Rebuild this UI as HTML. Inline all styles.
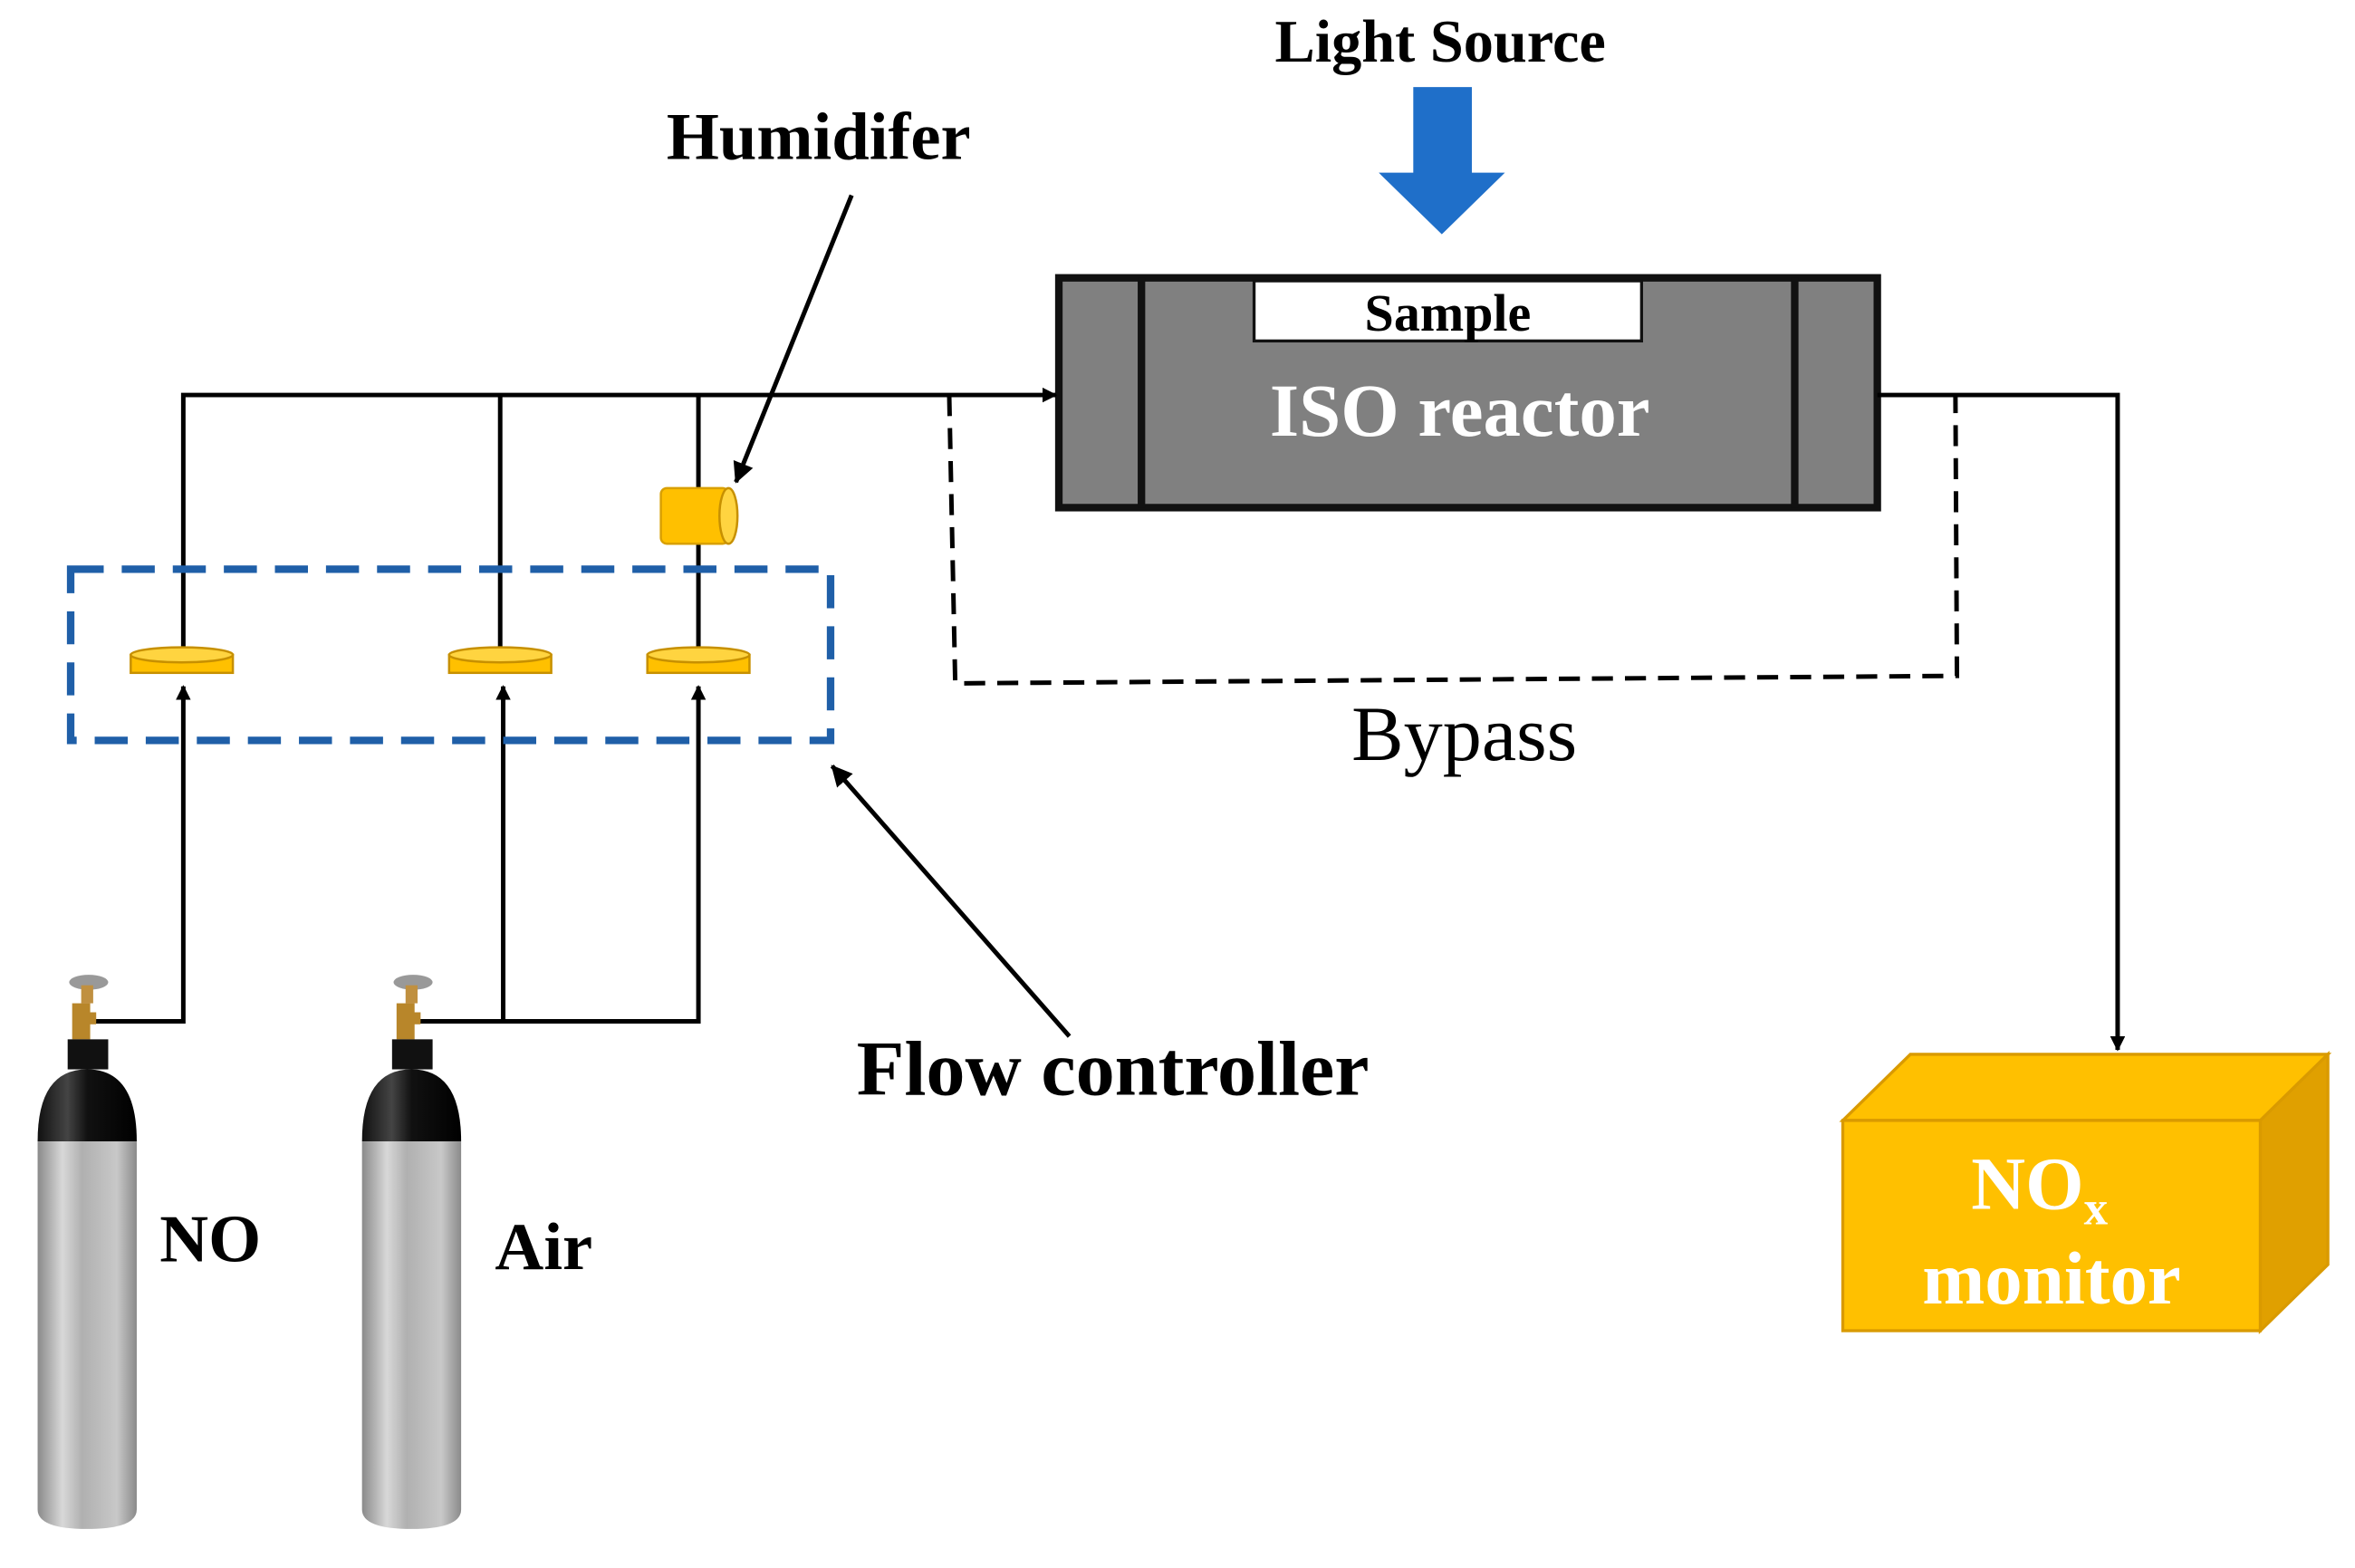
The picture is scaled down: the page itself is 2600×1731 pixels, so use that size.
<!DOCTYPE html>
<html><head><style>html,body{margin:0;padding:0;background:#fff}svg{display:block}</style></head>
<body>
<svg width="2600" height="1731" viewBox="0 0 1568 1044" xmlns="http://www.w3.org/2000/svg" font-family="'Liberation Serif', serif">
<defs>
<marker id="ah" markerWidth="10" markerHeight="10" refX="9" refY="5" orient="auto" markerUnits="userSpaceOnUse" viewBox="0 0 10 10"><path d="M0,0 L10,5 L0,10 z" fill="#000"/></marker>
<marker id="ah2" markerWidth="14" markerHeight="14" refX="13" refY="7" orient="auto" markerUnits="userSpaceOnUse" viewBox="0 0 14 14"><path d="M0,0 L14,7 L0,14 z" fill="#000"/></marker>
<linearGradient id="metal" x1="0" x2="1" y1="0" y2="0">
<stop offset="0" stop-color="#8a8a8a"/><stop offset="0.25" stop-color="#d8d8d8"/><stop offset="0.45" stop-color="#b0b0b0"/><stop offset="0.8" stop-color="#c8c8c8"/><stop offset="1" stop-color="#8a8a8a"/></linearGradient>
<linearGradient id="blk" x1="0" x2="1"><stop offset="0" stop-color="#111"/><stop offset="0.3" stop-color="#444"/><stop offset="0.5" stop-color="#111"/><stop offset="1" stop-color="#000"/></linearGradient>
</defs>

<text x="959" y="41" font-size="40" font-weight="bold" text-anchor="middle">Light Source</text>
<path d="M941,58 H980 V115 H1002 L960,156 L918,115 H941 Z" fill="#1f6fc9"/>

<text x="545" y="106" font-size="45" font-weight="bold" text-anchor="middle">Humidifer</text>
<line x1="567" y1="130" x2="490" y2="321" stroke="#000" stroke-width="3" marker-end="url(#ah2)"/>

<rect x="705" y="185" width="545" height="153" fill="#808080" stroke="#111" stroke-width="5"/>
<line x1="760" y1="185" x2="760" y2="338" stroke="#111" stroke-width="5"/>
<line x1="1195" y1="185" x2="1195" y2="338" stroke="#111" stroke-width="5"/>
<rect x="835" y="187" width="258" height="40" fill="#fff" stroke="#111" stroke-width="2"/>
<text x="964" y="220" font-size="35" font-weight="bold" text-anchor="middle">Sample</text>
<text x="972" y="290" font-size="50" font-weight="bold" fill="#fff" text-anchor="middle">ISO reactor</text>

<g stroke="#000" stroke-width="3" fill="none">
<polyline points="122,440 122,263 703,263" marker-end="url(#ah)"/>
<line x1="333" y1="263" x2="333" y2="440"/>
<line x1="465" y1="263" x2="465" y2="440"/>
<polyline points="1250,263 1410,263 1410,699" marker-end="url(#ah)"/>
<polyline points="62,680 122,680 122,457" marker-end="url(#ah)"/>
<polyline points="275,680 465,680 465,457" marker-end="url(#ah)"/>
<line x1="335" y1="680" x2="335" y2="457" marker-end="url(#ah)"/>
<polyline points="632,263 636,455 1303,450 1302,263" stroke-dasharray="14 8"/>
</g>
<text x="975" y="506" font-size="52" text-anchor="middle">Bypass</text>

<rect x="440" y="325" width="45" height="37" fill="#ffc000" stroke="#d9a000" stroke-width="1.5" rx="4"/>
<ellipse cx="485" cy="343.5" rx="6" ry="18.5" fill="#ffd440" stroke="#c79000" stroke-width="1.5"/>

<rect x="47" y="379" width="506" height="114" fill="none" stroke="#1f5fa8" stroke-width="5" stroke-dasharray="22 12"/>
<g fill="#ffc000" stroke="#c79000" stroke-width="1.5">
<rect x="87" y="436" width="68" height="12"/><ellipse cx="121" cy="436" rx="34" ry="5" fill="#ffd440"/>
<rect x="299" y="436" width="68" height="12"/><ellipse cx="333" cy="436" rx="34" ry="5" fill="#ffd440"/>
<rect x="431" y="436" width="68" height="12"/><ellipse cx="465" cy="436" rx="34" ry="5" fill="#ffd440"/>
</g>

<line x1="712" y1="690" x2="554" y2="510" stroke="#000" stroke-width="3" marker-end="url(#ah2)"/>
<text x="741" y="729" font-size="52" font-weight="bold" text-anchor="middle">Flow controller</text>

<g>
<rect x="48" y="668" width="12" height="24" fill="#b8862a"/>
<rect x="58" y="674" width="6" height="8" fill="#b8862a"/>
<ellipse cx="59" cy="654" rx="13" ry="5" fill="#999"/>
<rect x="54" y="656" width="8" height="12" fill="#c09040"/>
<rect x="45" y="692" width="27" height="20" fill="#111"/>
<path d="M25,760 Q25,712 58,712 Q91,712 91,760 Z" fill="url(#blk)"/>
<path d="M25,760 H91 V1005 Q91,1018 58,1018 Q25,1018 25,1005 Z" fill="url(#metal)"/>

<rect x="264" y="668" width="12" height="24" fill="#b8862a"/>
<rect x="274" y="674" width="6" height="8" fill="#b8862a"/>
<ellipse cx="275" cy="654" rx="13" ry="5" fill="#999"/>
<rect x="270" y="656" width="8" height="12" fill="#c09040"/>
<rect x="261" y="692" width="27" height="20" fill="#111"/>
<path d="M241,760 Q241,712 274,712 Q307,712 307,760 Z" fill="url(#blk)"/>
<path d="M241,760 H307 V1005 Q307,1018 274,1018 Q241,1018 241,1005 Z" fill="url(#metal)"/>
</g>
<text x="140" y="840" font-size="45" font-weight="bold" text-anchor="middle">NO</text>
<text x="362" y="845" font-size="45" font-weight="bold" text-anchor="middle">Air</text>

<polygon points="1227,746 1272,702 1550,702 1505,746" fill="#ffc000" stroke="#d99a00" stroke-width="2"/>
<polygon points="1505,746 1550,702 1550,842 1505,886" fill="#e0a000" stroke="#d99a00" stroke-width="2"/>
<rect x="1227" y="746" width="278" height="140" fill="#ffc000" stroke="#d99a00" stroke-width="2"/>
<text x="1358" y="805" font-size="50" font-weight="bold" fill="#fff" text-anchor="middle">NO<tspan font-size="32" dy="10">x</tspan></text>
<text x="1366" y="868" font-size="50" font-weight="bold" fill="#fff" text-anchor="middle">monitor</text>
</svg>
</body></html>
